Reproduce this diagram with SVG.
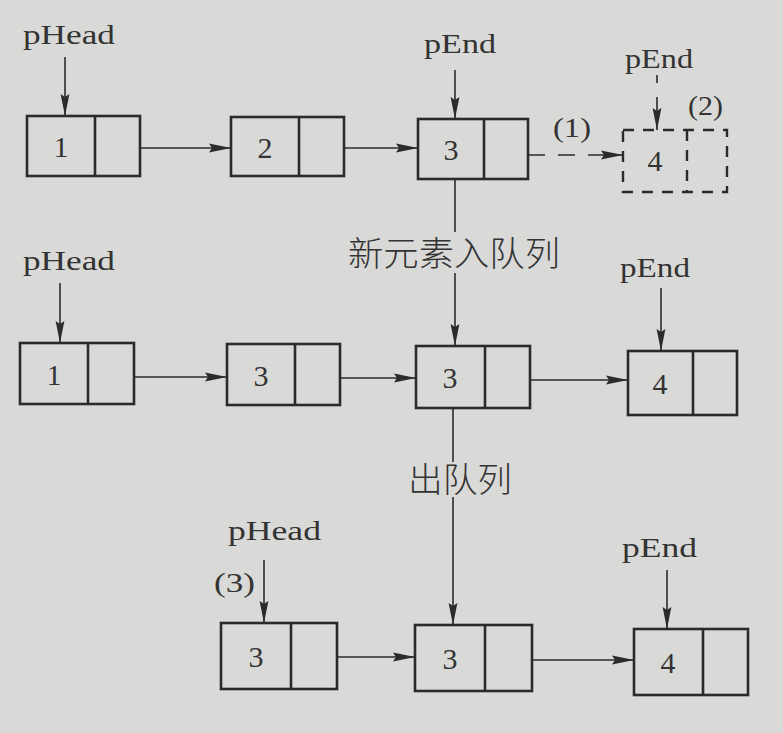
<svg xmlns="http://www.w3.org/2000/svg" width="783" height="733" viewBox="0 0 783 733">
<defs>
<marker id="ah" markerUnits="userSpaceOnUse" markerWidth="24" markerHeight="10" refX="22" refY="5" orient="auto">
<path d="M0,0.6 L22,5 L0,9.4 L3,5 z" fill="#2b2b2b"/>
</marker>
<style>
.bg{fill:#d9d9d7}
.box{fill:none;stroke:#2b2b2b;stroke-width:2.6}
.dbox{fill:none;stroke:#2b2b2b;stroke-width:2.4;stroke-dasharray:11 9}
.ln{fill:none;stroke:#2b2b2b;stroke-width:1.6}
.dln{fill:none;stroke:#2b2b2b;stroke-width:1.6;stroke-dasharray:17 13}
.lbl{font-family:"Liberation Serif","Times New Roman",serif;font-size:28px;fill:#333}
.num{font-family:"Liberation Serif","Times New Roman",serif;font-size:30px;fill:#333;text-anchor:middle}
.cjk{font-family:"Noto Sans CJK SC","Noto Sans CJK JP",sans-serif;font-weight:300;font-size:34px;fill:#333}
</style>
</defs>
<rect class="bg" x="0" y="0" width="783" height="733"/>

<g id="r1n1"><rect class="box" x="27" y="116" width="113" height="60"/><line class="box" x1="95" y1="116" x2="95" y2="176"/><text class="num" x="61" y="157">1</text></g>
<g id="r1n2"><rect class="box" x="231" y="117" width="113" height="59"/><line class="box" x1="299" y1="117" x2="299" y2="176"/><text class="num" x="265" y="158">2</text></g>
<g id="r1n3"><rect class="box" x="418" y="119" width="110" height="60"/><line class="box" x1="484" y1="119" x2="484" y2="179"/><text class="num" x="451" y="160">3</text></g>
<g id="r1n4"><rect class="dbox" x="623" y="130" width="104" height="62"/><line class="dbox" x1="687" y1="130" x2="687" y2="192"/><text class="num" x="655" y="171">4</text></g>

<g id="r2n1"><rect class="box" x="20" y="343" width="114" height="61"/><line class="box" x1="88" y1="343" x2="88" y2="404"/><text class="num" x="54" y="385">1</text></g>
<g id="r2n2"><rect class="box" x="227" y="344" width="113" height="61"/><line class="box" x1="295" y1="344" x2="295" y2="405"/><text class="num" x="261" y="386">3</text></g>
<g id="r2n3"><rect class="box" x="416" y="346" width="114" height="62"/><line class="box" x1="485" y1="346" x2="485" y2="408"/><text class="num" x="450" y="388">3</text></g>
<g id="r2n4"><rect class="box" x="628" y="351" width="109" height="64"/><line class="box" x1="693" y1="351" x2="693" y2="415"/><text class="num" x="660" y="394">4</text></g>

<g id="r3n1"><rect class="box" x="221" y="623" width="116" height="66"/><line class="box" x1="291" y1="623" x2="291" y2="689"/><text class="num" x="256" y="667">3</text></g>
<g id="r3n2"><rect class="box" x="415" y="625" width="117" height="66"/><line class="box" x1="485" y1="625" x2="485" y2="691"/><text class="num" x="450" y="669">3</text></g>
<g id="r3n3"><rect class="box" x="634" y="629" width="114" height="66"/><line class="box" x1="703" y1="629" x2="703" y2="695"/><text class="num" x="668" y="673">4</text></g>

<g id="labels">
<text class="lbl" x="23" y="44" textLength="92" lengthAdjust="spacingAndGlyphs">pHead</text>
<text class="lbl" x="424" y="53" textLength="72" lengthAdjust="spacingAndGlyphs">pEnd</text>
<text class="lbl" x="553" y="137" textLength="38" lengthAdjust="spacingAndGlyphs">(1)</text>
<text class="lbl" x="625" y="68" textLength="68" lengthAdjust="spacingAndGlyphs">pEnd</text>
<text class="lbl" x="688" y="115" textLength="35" lengthAdjust="spacingAndGlyphs">(2)</text>
<text class="cjk" x="348" y="266" textLength="212" lengthAdjust="spacingAndGlyphs">新元素入队列</text>
<text class="lbl" x="23" y="270" textLength="92" lengthAdjust="spacingAndGlyphs">pHead</text>
<text class="lbl" x="620" y="277" textLength="70" lengthAdjust="spacingAndGlyphs">pEnd</text>
<text class="cjk" x="408" y="492" textLength="104" lengthAdjust="spacingAndGlyphs">出队列</text>
<text class="lbl" x="228" y="540" textLength="93" lengthAdjust="spacingAndGlyphs">pHead</text>
<text class="lbl" x="214" y="592" textLength="41" lengthAdjust="spacingAndGlyphs">(3)</text>
<text class="lbl" x="622" y="557" textLength="75" lengthAdjust="spacingAndGlyphs">pEnd</text>
</g>

<g id="connectors">
<line class="ln" x1="65" y1="57" x2="65" y2="116" marker-end="url(#ah)"/>
<line class="ln" x1="140" y1="148" x2="231" y2="148" marker-end="url(#ah)"/>
<line class="ln" x1="344" y1="148" x2="418" y2="148" marker-end="url(#ah)"/>
<line class="ln" x1="455" y1="70" x2="455" y2="119" marker-end="url(#ah)"/>
<line class="dln" x1="528" y1="155" x2="623" y2="155" marker-end="url(#ah)"/>
<line class="dln" x1="657" y1="75" x2="657" y2="130" marker-end="url(#ah)" style="stroke-dasharray:8 14 40"/>
<line class="ln" x1="455" y1="179" x2="455" y2="232"/>
<line class="ln" x1="455" y1="273" x2="455" y2="346" marker-end="url(#ah)"/>
<line class="ln" x1="60" y1="283" x2="60" y2="343" marker-end="url(#ah)"/>
<line class="ln" x1="661" y1="288" x2="661" y2="351" marker-end="url(#ah)"/>
<line class="ln" x1="134" y1="377" x2="227" y2="377" marker-end="url(#ah)"/>
<line class="ln" x1="340" y1="378" x2="416" y2="378" marker-end="url(#ah)"/>
<line class="ln" x1="530" y1="380" x2="628" y2="380" marker-end="url(#ah)"/>
<line class="ln" x1="453" y1="408" x2="453" y2="462"/>
<line class="ln" x1="453" y1="497" x2="453" y2="625" marker-end="url(#ah)"/>
<line class="ln" x1="264" y1="560" x2="264" y2="623" marker-end="url(#ah)"/>
<line class="ln" x1="667" y1="570" x2="667" y2="629" marker-end="url(#ah)"/>
<line class="ln" x1="337" y1="657" x2="415" y2="657" marker-end="url(#ah)"/>
<line class="ln" x1="532" y1="660" x2="634" y2="660" marker-end="url(#ah)"/>
</g>
</svg>
